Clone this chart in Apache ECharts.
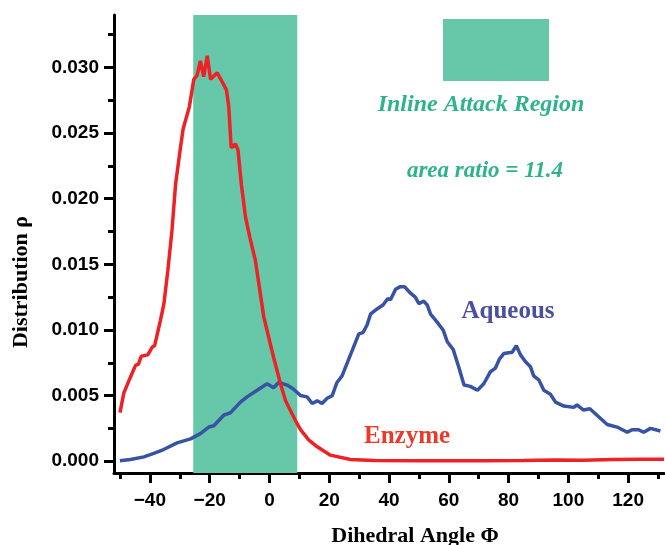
<!DOCTYPE html>
<html>
<head>
<meta charset="utf-8">
<script src="https://cdn.jsdelivr.net/npm/echarts@6/dist/echarts.min.js"></script>
<style>html,body{margin:0;padding:0;background:#fff}#c{width:665px;height:545px}</style>
</head>
<body>
<div id="c"></div>
<script>
// ---- data ----
const xMajorTicks = [-40, -20, 0, 20, 40, 60, 80, 100, 120];
const xMinorTicks = [-50, -30, -10, 10, 30, 50, 70, 90, 110, 130];
const yMajorTicks = [0, 0.005, 0.010, 0.015, 0.020, 0.025, 0.030];
const yMinorTicks = [0.0025, 0.0075, 0.0125, 0.0175, 0.0225, 0.0275, 0.0325];
const inlineRegion = [-25.5, 9.3];

const enzymeAngle = [-50,-48.7,-46.5,-44.8,-43.8,-42.9,-40.7,-39.2,-38.4,-36.5,-35.3,-34,-32.6,-31.4,-30,-28.9,-26.8,-25.3,-24.2,-23.1,-22.0,-20.8,-19.7,-17.5,-15.8,-14.4,-13.6,-12.8,-11.9,-11.4,-10.5,-9.4,-8.0,-6.5,-4.7,-1.9,1.4,3.7,5.4,8.7,10.4,13.2,16.0,20.4,27.1,35,50,70,85,95,105,115,125,132];
const enzymeRho = [0.0037,0.0052,0.0064,0.0073,0.0074,0.0080,0.0081,0.0087,0.0088,0.0107,0.0120,0.0145,0.0176,0.0211,0.0235,0.0253,0.0270,0.0291,0.0294,0.0305,0.0293,0.0309,0.0291,0.0296,0.0289,0.0283,0.0270,0.0239,0.0240,0.0242,0.0237,0.0211,0.0186,0.0170,0.0153,0.0110,0.0079,0.0059,0.0046,0.0031,0.0024,0.0016,0.0011,0.00046,0.00013,0.00005,0.00003,0.00003,0.00005,0.0001,0.00007,0.00012,0.00015,0.00015];

const aqueousAngle = [-50,-46.5,-42,-38.7,-35.4,-30.9,-26.4,-23.1,-20.3,-18.6,-15.3,-13,-9.7,-7.5,-4.1,-0.8,1.4,3.1,5.9,8,10.4,12.6,14.3,16.0,17.6,19.3,21.0,22.6,24.3,27.1,29.9,31.3,32.7,33.8,36,38,39.6,40.5,42.2,43.8,45.2,47.2,48.8,50,51.6,52.8,53.9,56.1,58.1,59.5,61.5,63.3,65.1,67.2,69.6,71.7,73.9,75.6,77,78.4,81.2,81.7,82.6,84,85.6,87.3,88.4,90.1,91.8,94,95.7,98.5,101.8,102.9,105.1,107.2,109.6,113,116.3,119.7,121.3,123.5,125.2,127.5,130.8];
const aqueousRho = [0.00003,0.00013,0.00033,0.00059,0.00089,0.0014,0.0017,0.0021,0.0026,0.0027,0.0035,0.0037,0.0045,0.0049,0.0054,0.0059,0.0056,0.0060,0.0058,0.0055,0.0050,0.0049,0.0044,0.0046,0.0044,0.0048,0.0050,0.0060,0.0065,0.0081,0.0097,0.0098,0.0104,0.0112,0.0116,0.0119,0.0124,0.0123,0.0131,0.0133,0.0133,0.0128,0.0125,0.0120,0.0122,0.0119,0.0112,0.0106,0.0100,0.0091,0.0085,0.0072,0.0058,0.0057,0.0054,0.0059,0.0068,0.0071,0.0078,0.0082,0.0083,0.0082,0.0088,0.0081,0.0076,0.0072,0.0065,0.0062,0.0054,0.0051,0.0045,0.0042,0.0041,0.0043,0.0039,0.0040,0.0035,0.0028,0.0026,0.0022,0.0024,0.0024,0.0022,0.0025,0.0023];

const bandColor = '#66c8a8';
const zip = (a, b) => a.map((v, i) => [v, b[i]]);
const sansBold = 'Liberation Sans';
const green = '#2fb38c';

const chart = echarts.init(document.getElementById('c'), null, { renderer: 'canvas' });
const xMin = -52, xMax = 132, yMin = -0.0009, yMax = 0.034;
const axisLineStyle = { color: '#000', width: 3 };

chart.setOption({
  animation: false,
  grid: { left: 114, right: 1, top: 15, bottom: 72, containLabel: false },
  xAxis: [
    {
      type: 'value', min: xMin, max: xMax, position: 'bottom',
      axisLine: { show: true, onZero: false, lineStyle: axisLineStyle },
      axisTick: { show: true, customValues: xMajorTicks, length: 10, lineStyle: { color: '#000', width: 3 } },
      axisLabel: {
        customValues: xMajorTicks, margin: 18,
        fontFamily: sansBold, fontWeight: 'bold', fontSize: 19, color: '#000',
        formatter: v => (v < 0 ? '\u2212' + Math.abs(v) : String(v))
      },
      splitLine: { show: false }
    },
    {
      type: 'value', min: xMin, max: xMax, position: 'bottom',
      axisLine: { show: false, onZero: false },
      axisTick: { show: true, customValues: xMinorTicks, length: 6, lineStyle: { color: '#000', width: 3 } },
      axisLabel: { show: false },
      splitLine: { show: false }
    }
  ],
  yAxis: [
    {
      type: 'value', min: yMin, max: yMax, position: 'left',
      axisLine: { show: true, onZero: false, lineStyle: axisLineStyle },
      axisTick: { show: true, customValues: yMajorTicks, length: 10, lineStyle: { color: '#000', width: 3 } },
      axisLabel: {
        customValues: yMajorTicks, margin: 15,
        fontFamily: sansBold, fontWeight: 'bold', fontSize: 19, color: '#000',
        formatter: v => v.toFixed(3)
      },
      splitLine: { show: false }
    },
    {
      type: 'value', min: yMin, max: yMax, position: 'left',
      axisLine: { show: false, onZero: false },
      axisTick: { show: true, customValues: yMinorTicks, length: 6, lineStyle: { color: '#000', width: 3 } },
      axisLabel: { show: false },
      splitLine: { show: false }
    }
  ],
  series: [
    {
      name: 'Aqueous', type: 'line', xAxisIndex: 0, yAxisIndex: 0,
      data: zip(aqueousAngle, aqueousRho),
      showSymbol: false, symbol: 'none',
      lineStyle: { color: '#3852a4', width: 3.5 },
      z: 3,
      markArea: {
        silent: true,
        itemStyle: { color: bandColor, opacity: 1 },
        data: [[{ xAxis: inlineRegion[0] }, { xAxis: inlineRegion[1] }]]
      }
    },
    {
      name: 'Enzyme', type: 'line', xAxisIndex: 0, yAxisIndex: 0,
      data: zip(enzymeAngle, enzymeRho),
      showSymbol: false, symbol: 'none',
      lineStyle: { color: '#ee2126', width: 3.5 },
      z: 4
    }
  ],
  graphic: [
    { type: 'rect', shape: { x: 443, y: 19, width: 106, height: 62 }, style: { fill: bandColor }, z: 10 },
    { type: 'text', x: 481, y: 105, style: { text: 'Inline Attack Region', align: 'center', verticalAlign: 'middle', font: 'italic bold 24px "Liberation Serif"', fill: green }, z: 10 },
    { type: 'text', x: 485, y: 171, style: { text: 'area ratio = 11.4', align: 'center', verticalAlign: 'middle', font: 'italic bold 23px "Liberation Serif"', fill: green }, z: 10 },
    { type: 'text', x: 508, y: 312, style: { text: 'Aqueous', align: 'center', verticalAlign: 'middle', font: 'bold 25px "Liberation Serif"', fill: '#4a4f9e' }, z: 10 },
    { type: 'text', x: 407, y: 437, style: { text: 'Enzyme', align: 'center', verticalAlign: 'middle', font: 'bold 25px "Liberation Serif"', fill: '#ea3a2c' }, z: 10 },
    { type: 'text', x: 415, y: 536, style: { text: 'Dihedral Angle \u03A6', align: 'center', verticalAlign: 'middle', font: 'bold 22px "Liberation Serif"', fill: '#000' }, z: 10 },
    { type: 'text', x: 21, y: 282, rotation: Math.PI / 2, style: { text: 'Distribution \u03C1', align: 'center', verticalAlign: 'middle', font: 'bold 22px "Liberation Serif"', fill: '#000' }, z: 10 }
  ]
});
</script>
</body>
</html>
